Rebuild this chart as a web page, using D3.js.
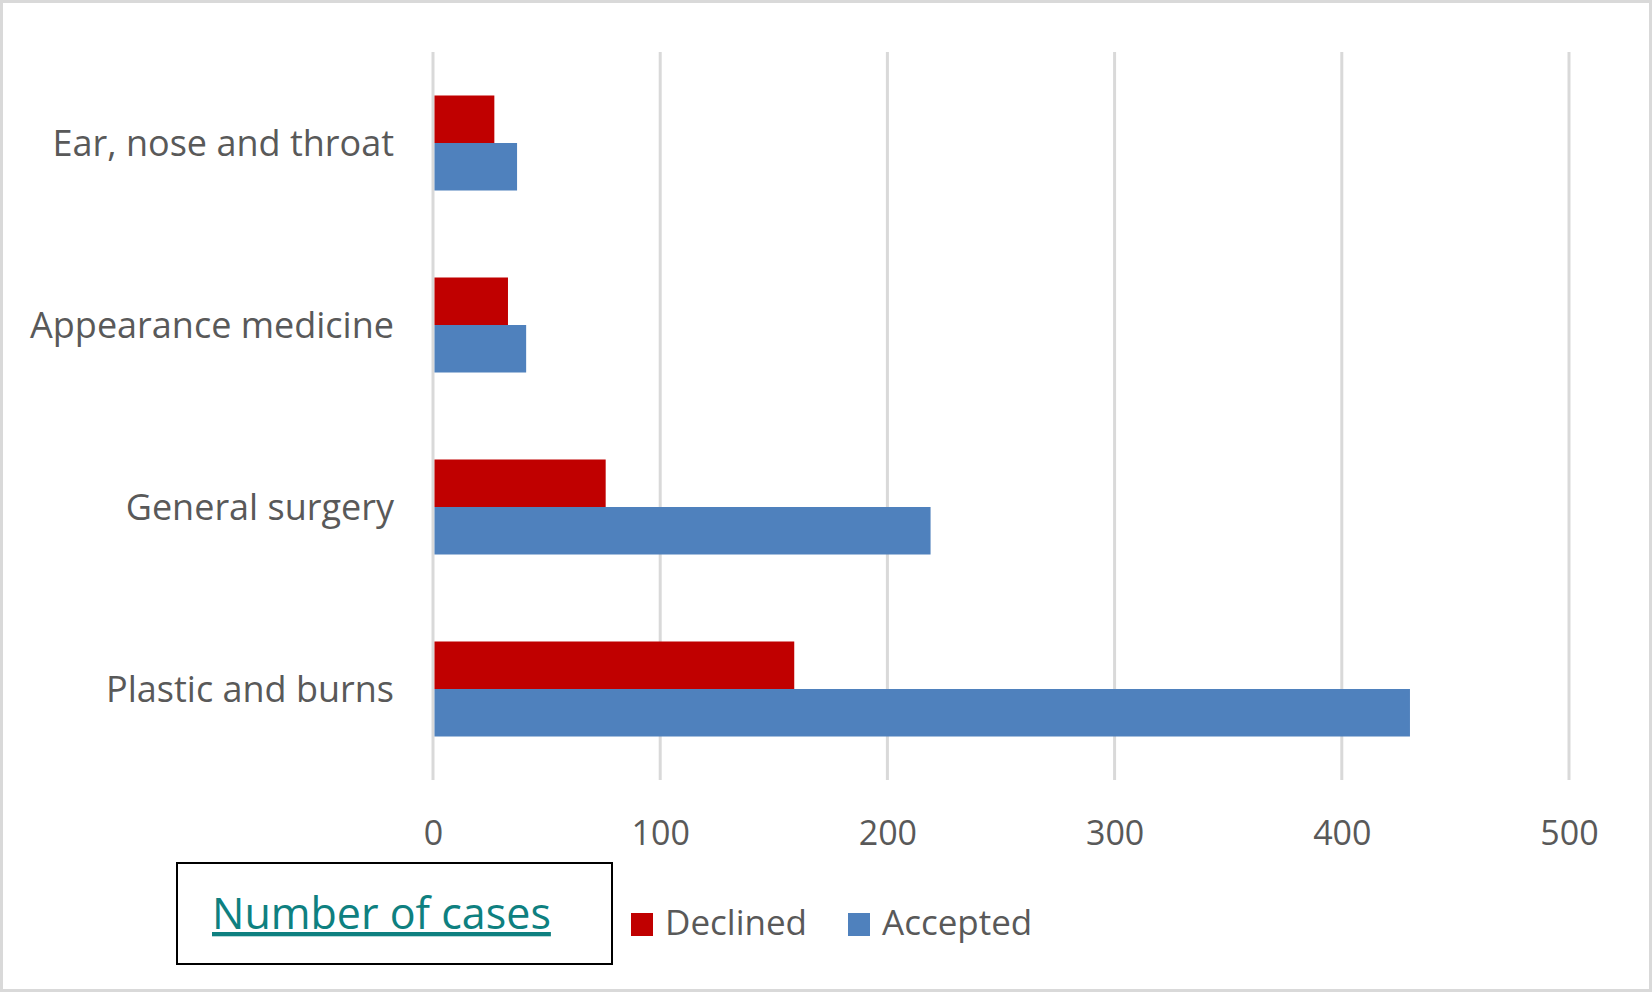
<!DOCTYPE html>
<html>
<head>
<meta charset="utf-8">
<script src="https://cdn.jsdelivr.net/npm/d3@7"></script>
<style>
  html, body { margin: 0; padding: 0; background: #fff; }
  svg { display: block; }
</style>
</head>
<body>
<svg id="chart" width="1652" height="992"></svg>
<script>
const categories = ["Ear, nose and throat", "Appearance medicine", "General surgery", "Plastic and burns"];
const seriesNames = ["Declined", "Accepted"];
const declined = [27, 33, 76, 159];
const accepted = [37, 41, 219, 430];
const xTicks = [0, 100, 200, 300, 400, 500];
const legendTitle = "Number of cases";
const colors = ["#C00000", "#4F81BD"];

const svg = d3.select("#chart");
const W = 1652, H = 992;

// outer frame
svg.append("rect").attr("x", 1.5).attr("y", 1.5).attr("width", W - 3).attr("height", H - 3)
  .attr("fill", "#fff").attr("stroke", "#D9D9D9").attr("stroke-width", 3);

const x = d3.scaleLinear().domain([0, 500]).range([433, 1569]);
const y = d3.scaleBand().domain(categories).range([52, 780]).paddingInner(0.478).paddingOuter(0.239);
const ySub = d3.scaleBand().domain(seriesNames).range([0, y.bandwidth()]);

// gridlines
const grid = svg.append("g");
grid.selectAll("line").data(xTicks).join("line")
  .attr("x1", d => x(d)).attr("x2", d => x(d))
  .attr("y1", 52).attr("y2", 780)
  .attr("stroke", "#D9D9D9").attr("stroke-width", 3);

// bars
const rows = categories.map((c, i) => ({ cat: c, vals: [declined[i], accepted[i]] }));
const g = svg.append("g");
rows.forEach(r => {
  r.vals.forEach((v, j) => {
    g.append("rect")
      .attr("x", x(0) + 1.5)
      .attr("y", y(r.cat) + ySub(seriesNames[j]))
      .attr("width", x(v) - x(0) - 1.5)
      .attr("height", ySub.bandwidth())
      .attr("fill", colors[j]);
  });
});

// x axis tick labels
const xAxis = d3.axisBottom(x).tickValues(xTicks).tickSize(0).tickPadding(0).tickFormat(d3.format("d"));
const xg = svg.append("g").attr("transform", "translate(0,845)").call(xAxis);
xg.select(".domain").remove();
xg.selectAll("text").attr("dy", 0).attr("y", 0)
  .attr("font-family", "Open Sans").attr("font-size", 34).attr("fill", "#595959");

// y axis category labels
const yAxis = d3.axisLeft(y).tickSize(0).tickPadding(0);
const yg = svg.append("g").attr("transform", "translate(394,0)").call(yAxis);
yg.select(".domain").remove();
yg.selectAll("text").attr("dy", "0.35em").attr("x", 0)
  .attr("font-family", "Open Sans").attr("font-size", 36).attr("fill", "#595959");

// legend title box
svg.append("rect").attr("x", 177).attr("y", 863).attr("width", 435).attr("height", 101)
  .attr("fill", "#fff").attr("stroke", "#000").attr("stroke-width", 2);
svg.append("text").attr("x", 212).attr("y", 929).text(legendTitle)
  .attr("font-family", "Open Sans").attr("font-size", 43).attr("fill", "#0E8080")
  .style("text-decoration", "underline");

// legend items
const legItems = [{ name: seriesNames[0], color: colors[0], x: 631, tx: 665 },
                  { name: seriesNames[1], color: colors[1], x: 848, tx: 882 }];
const leg = svg.append("g");
legItems.forEach(d => {
  leg.append("rect").attr("x", d.x).attr("y", 913).attr("width", 22).attr("height", 23).attr("fill", d.color);
  leg.append("text").attr("x", d.tx).attr("y", 935).text(d.name)
    .attr("font-family", "Open Sans").attr("font-size", 35).attr("fill", "#595959");
});
</script>
</body>
</html>
